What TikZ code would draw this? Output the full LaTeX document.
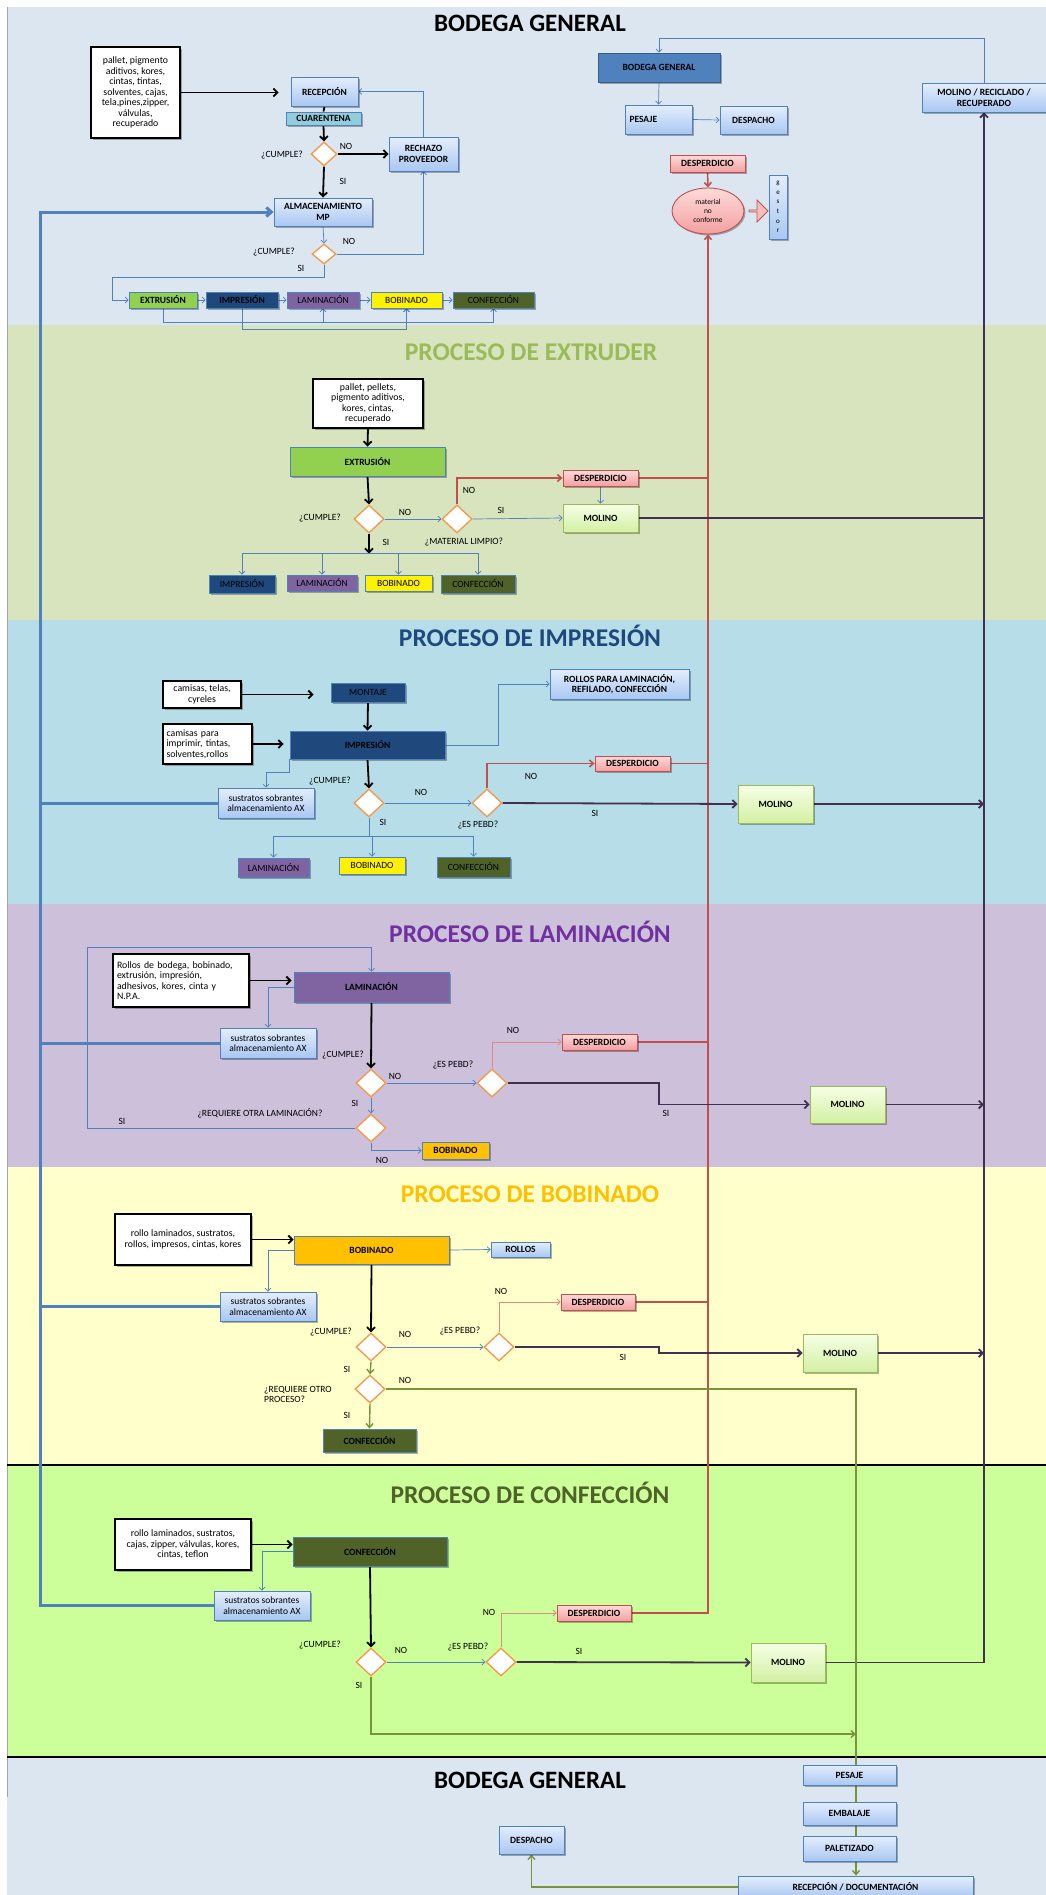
\documentclass[tikz,border=0pt]{standalone}
\usepackage{fontspec}
\setmainfont{Carlito}
\usetikzlibrary{shapes.geometric,shapes.arrows,arrows.meta,shadows,calc}
\pgfdeclarelayer{bg}\pgfdeclarelayer{lines}
\pgfsetlayers{bg,lines,main}
\definecolor{sa}{HTML}{DCE6F1}
\definecolor{sb}{HTML}{D7E4BD}
\definecolor{sc}{HTML}{B7DEE8}
\definecolor{sd}{HTML}{CCC0DA}
\definecolor{se}{HTML}{FFFFCC}
\definecolor{sf}{HTML}{CCFF99}
\definecolor{boxblue}{HTML}{4F81BD}
\definecolor{boxdark}{HTML}{385D8A}
\definecolor{bluetop}{HTML}{E4EEFC}
\definecolor{bluebot}{HTML}{A9C7F2}
\definecolor{cuarc}{HTML}{93CDDD}
\definecolor{grnbox}{HTML}{92D050}
\definecolor{navy}{HTML}{1F497D}
\definecolor{purbox}{HTML}{8064A2}
\definecolor{olive}{HTML}{4F6228}
\definecolor{orng}{HTML}{FFC000}
\definecolor{orangeb}{HTML}{F79646}
\definecolor{redc}{HTML}{C0504D}
\definecolor{pinkc}{HTML}{E08A86}
\definecolor{pinktop}{HTML}{FFDADA}
\definecolor{pinkbot}{HTML}{F2A0A0}
\definecolor{molb}{HTML}{9BBB59}
\definecolor{moltop}{HTML}{F6FFE6}
\definecolor{molbot}{HTML}{D3F0A3}
\definecolor{purp}{HTML}{403152}
\definecolor{greenc}{HTML}{77933C}
\definecolor{ttlgreen}{HTML}{9BBB59}
\definecolor{ttlpurple}{HTML}{7030A0}
\newcommand\bxf{\fontsize{9.5}{10.5}\selectfont\bfseries}
\newcommand\lbf{\fontsize{9.5}{10.5}\selectfont}
\newcommand\inpf{\fontsize{9.8}{10.5}\selectfont}
\newcommand\smf{\fontsize{7.5}{9}\selectfont}
\newcommand\gsf{\fontsize{7}{9.6}\selectfont}
\newcommand\ttlf{\fontsize{25.5}{28}\selectfont\bfseries}
\newcommand\bttlf{\fontsize{25}{28}\selectfont\bfseries}
\tikzset{
 shd/.style={drop shadow={shadow xshift=1.5pt, shadow yshift=-1.5pt, opacity=0.3, fill=black}},
 box/.style={draw=boxblue, line width=0.9pt, inner sep=1pt, align=center, font=\bxf, shd},
 bluebox/.style={box, top color=bluetop, bottom color=bluebot},
 pinkbox/.style={box, draw=redc, top color=pinktop, bottom color=pinkbot},
 molbox/.style={box, draw=molb, top color=moltop, bottom color=molbot},
 inbox/.style={draw=black, line width=1.1pt, fill=white, font=\inpf, align=center, inner sep=2pt, shd},
 dia/.style={diamond, draw=orangeb, line width=1.3pt, fill=white, inner sep=0pt, minimum width=30pt, minimum height=28pt},
 lab/.style={font=\lbf, inner sep=0pt},
 ttl/.style={font=\ttlf, inner sep=0pt},
 blk/.style={line width=1.8pt, black, -{Straight Barb[length=4pt,width=8pt]}},
 thn/.style={line width=0.7pt, boxblue, -{Straight Barb[length=3pt,width=6pt]}},
 thnl/.style={line width=0.7pt, boxblue},
 redl/.style={line width=1.6pt, redc},
 redarr/.style={redl, -{Straight Barb[length=4pt,width=7pt]}},
 pnk/.style={line width=0.8pt, pinkc, -{Straight Barb[length=3pt,width=6pt]}},
 prp/.style={line width=1.8pt, purp},
 prparr/.style={prp, -{Straight Barb[length=4pt,width=8pt]}},
 grn/.style={line width=1.4pt, greenc},
 grnarr/.style={grn, -{Straight Barb[length=4pt,width=7pt]}},
 bigb/.style={line width=3pt, boxblue},
}
\begin{document}
\begin{tikzpicture}[x=1pt,y=-1pt]
\useasboundingbox (0,0) rectangle (1046,1895);
\begin{pgfonlayer}{bg}
\fill[white] (0,0) rectangle (1046,1895);
\fill[sa] (7,7) rectangle (1046,325);
\fill[sb] (7,325) rectangle (1046,620);
\fill[sc] (7,620) rectangle (1046,904);
\fill[sd] (7,904) rectangle (1046,1167);
\fill[se] (7,1167) rectangle (1046,1465);
\fill[sf] (7,1465) rectangle (1046,1757);
\fill[sa] (7,1757) rectangle (1046,1895);
\draw[gray!70, line width=0.8pt] (7,7) -- (7,1797);
\draw[black, line width=2pt] (7,1465) -- (1046,1465);
\draw[black, line width=2pt] (7,1757) -- (1046,1757);
\end{pgfonlayer}

% titles
\node[inner sep=0pt, font=\bttlf] (t1) at (530,23) {BODEGA GENERAL};
\node[ttl, text=ttlgreen] (t2) at (531,352) {PROCESO DE EXTRUDER};
\node[ttl, text=navy] (t3) at (530,636) {PROCESO DE IMPRESIÓN};
\node[ttl, text=ttlpurple] (t4) at (530,932) {PROCESO DE LAMINACIÓN};
\node[ttl, text=orng] (t5) at (530,1194) {PROCESO DE BOBINADO};
\node[ttl, text=olive] (t6) at (530,1493) {PROCESO DE CONFECCIÓN};
\node[inner sep=0pt, font=\bttlf] (t7) at (530,1780) {BODEGA GENERAL};

% ===== TOP =====
\node[inbox, minimum width=89pt, minimum height=91pt] (in1) at (135.5,92.5) {pallet, pigmento\\aditivos, kores,\\cintas, tintas,\\solventes, cajas,\\tela,pines,zipper,\\válvulas,\\recuperado};
\node[bluebox, minimum width=67pt, minimum height=29pt] (rec) at (324.5,91.5) {RECEPCIÓN};
\node[box, fill=cuarc, minimum width=75pt, minimum height=13pt, inner sep=0pt] (cuar) at (323.5,118.5) {CUARENTENA};
\node[dia, minimum width=26pt, minimum height=24pt] (d1) at (324,154) {};
\node[bluebox, minimum width=69pt, minimum height=34pt] (rech) at (423.5,154) {RECHAZO\\PROVEEDOR};
\node[bluebox, minimum width=98pt, minimum height=28pt] (alm) at (323,212) {ALMACENAMIENTO\\MP};
\node[dia, minimum width=24pt, minimum height=20pt] (d2) at (324,254) {};
\node[box, fill=grnbox, minimum width=68pt, minimum height=16pt] (ex1) at (163,300) {EXTRUSIÓN};
\node[box, fill=navy, minimum width=72pt, minimum height=16pt] (im1) at (242,300) {IMPRESIÓN};
\node[box, fill=purbox, font=\lbf, minimum width=72pt, minimum height=16pt] (la1) at (323,300) {LAMINACIÓN};
\node[box, fill=yellow, font=\lbf, minimum width=71pt, minimum height=16pt] (bo1) at (406.5,300) {BOBINADO};
\node[box, fill=olive, font=\lbf, minimum width=81pt, minimum height=16pt] (co1) at (493.5,300) {CONFECCIÓN};
\node[lab] (l1a) at (282,155) {¿CUMPLE?};
\node[lab] (l1b) at (346,146) {NO};
\node[lab] (l1c) at (343,181) {SI};
\node[lab] (l2a) at (274,252) {¿CUMPLE?};
\node[lab] (l2b) at (349,241) {NO};
\node[lab] (l2c) at (301,268) {SI};

\node[box, fill=boxblue, draw=boxdark, minimum width=122pt, minimum height=29pt] (bg1) at (659,67.5) {BODEGA GENERAL};
\node[bluebox, minimum width=67pt, minimum height=29pt, align=left, text width=58pt] (pes1) at (658.5,119.5) {PESAJE};
\node[bluebox, minimum width=67pt, minimum height=28pt] (des1) at (753.5,120) {DESPACHO};
\node[pinkbox, minimum width=75pt, minimum height=17pt] (dp0) at (707.5,163.5) {DESPERDICIO};
\node[ellipse, draw=redc, line width=0.9pt, top color=pinktop, bottom color=pinkbot, minimum width=72pt, minimum height=46pt, inner sep=0pt, align=center, font=\smf, shd] (ell) at (708,211) {material\\no\\conforme};
\node[single arrow, draw=redc, fill=pinkbot!70!white, line width=0.8pt, minimum height=19pt, minimum width=22pt, single arrow head extend=4pt, inner sep=0pt] (barr) at (758,211) {};
\node[bluebox, font=\gsf, minimum width=18pt, minimum height=64pt, inner sep=0pt] (gst) at (778,207) {g\\e\\s\\t\\o\\r};
\node[bluebox, minimum width=124pt, minimum height=29pt] (molrec) at (984,97.5) {MOLINO / RECICLADO /\\RECUPERADO};

% ===== EXTRUDER =====
\node[inbox, minimum width=110pt, minimum height=49pt] (in2) at (368,403.5) {pallet, pellets,\\pigmento aditivos,\\kores, cintas,\\recuperado};
\node[box, fill=grnbox, minimum width=155pt, minimum height=29pt] (ex2) at (367.5,461.5) {EXTRUSIÓN};
\node[dia] (dA) at (369,519) {};
\node[dia] (dB) at (457,519) {};
\node[pinkbox, minimum width=75pt, minimum height=16pt] (dp2) at (600.5,478) {DESPERDICIO};
\node[molbox, minimum width=75pt, minimum height=28pt] (mo2) at (600.5,518) {MOLINO};
\node[box, fill=navy, font=\lbf, minimum width=66pt, minimum height=18pt] (im2) at (242,584) {IMPRESIÓN};
\node[box, fill=purbox, font=\lbf, minimum width=70pt, minimum height=16pt] (la2) at (322,583) {LAMINACIÓN};
\node[box, fill=yellow, font=\lbf, minimum width=67pt, minimum height=16pt] (bo2) at (398.5,583) {BOBINADO};
\node[box, fill=olive, font=\lbf, minimum width=74pt, minimum height=18pt] (co2) at (478,584) {CONFECCIÓN};
\node[lab] (l3a) at (320,518) {¿CUMPLE?};
\node[lab] (l3b) at (405,512) {NO};
\node[lab] (l3c) at (464,542) {¿MATERIAL LIMPIO?};
\node[lab] (l3d) at (469,490) {NO};
\node[lab] (l3e) at (501,510) {SI};
\node[lab] (l3f) at (386,542) {SI};

% ===== IMPRESION =====
\node[inbox, minimum width=78pt, minimum height=27pt] (in3a) at (202,694.5) {camisas, telas,\\cyreles};
\node[box, fill=navy, font=\lbf, minimum width=74pt, minimum height=19pt] (mon) at (368,692.5) {MONTAJE};
\node[inbox, align=left, text width=82pt, minimum width=89pt, minimum height=40pt] (in3b) at (207.5,744) {camisas para\\imprimir, tintas,\\solventes,rollos};
\node[box, fill=navy, minimum width=155pt, minimum height=28pt] (im3) at (367.5,745) {IMPRESIÓN};
\node[bluebox, minimum width=139pt, minimum height=30pt] (rol3) at (619.5,684) {ROLLOS PARA LAMINACIÓN,\\REFILADO, CONFECCIÓN};
\node[bluebox, font=\lbf, minimum width=96pt, minimum height=30pt] (su3) at (266,803) {sustratos sobrantes\\almacenamiento AX};
\node[dia] (dC) at (369,803) {};
\node[dia] (dD) at (487,803) {};
\node[pinkbox, minimum width=75pt, minimum height=15pt] (dp3) at (632.5,763.5) {DESPERDICIO};
\node[molbox, minimum width=75pt, minimum height=38pt] (mo3) at (775.5,804) {MOLINO};
\node[box, fill=purbox, font=\lbf, minimum width=71pt, minimum height=19pt] (la3) at (273.5,867.5) {LAMINACIÓN};
\node[box, fill=yellow, font=\lbf, minimum width=66pt, minimum height=17pt] (bo3) at (372,865.5) {BOBINADO};
\node[box, fill=olive, font=\lbf, minimum width=73pt, minimum height=20pt] (co3) at (473.5,867) {CONFECCIÓN};
\node[lab] (l4a) at (330,781) {¿CUMPLE?};
\node[lab] (l4b) at (421,792) {NO};
\node[lab] (l4c) at (531,776) {NO};
\node[lab] (l4d) at (595,813) {SI};
\node[lab] (l4e) at (478,825) {¿ES PEBD?};
\node[lab] (l4f) at (383,822) {SI};

% ===== LAMINACION =====
\node[inbox, align=left, text width=128pt, minimum width=136pt, minimum height=53pt] (in4) at (181,980.5) {Rollos de bodega, bobinado,\\extrusión, impresión,\\adhesivos, kores, cinta y\\N.P.A.};
\node[box, fill=purbox, minimum width=155pt, minimum height=30pt] (la4) at (371.5,987) {LAMINACIÓN};
\node[bluebox, font=\lbf, minimum width=96pt, minimum height=30pt] (su4) at (268,1043) {sustratos sobrantes\\almacenamiento AX};
\node[dia] (dE) at (371,1083) {};
\node[dia] (dG) at (492,1083) {};
\node[pinkbox, minimum width=75pt, minimum height=16pt] (dp4) at (599.5,1042) {DESPERDICIO};
\node[molbox, minimum width=75pt, minimum height=37pt] (mo4) at (847.5,1104.5) {MOLINO};
\node[dia] (dF) at (371,1128) {};
\node[box, fill=orng, minimum width=67pt, minimum height=17pt] (bo4) at (455.5,1150.5) {BOBINADO};
\node[lab] (l5a) at (343,1055) {¿CUMPLE?};
\node[lab] (l5b) at (395,1076) {NO};
\node[lab] (l5c) at (453,1065) {¿ES PEBD?};
\node[lab] (l5d) at (513,1030) {NO};
\node[lab] (l5e) at (666,1113) {SI};
\node[lab] (l5f) at (355,1103) {SI};
\node[lab] (l5g) at (260,1113) {¿REQUIERE OTRA LAMINACIÓN?};
\node[lab] (l5h) at (122,1121) {SI};
\node[lab] (l5i) at (382,1160) {NO};

% ===== BOBINADO =====
\node[inbox, minimum width=136pt, minimum height=51pt] (in5) at (183,1239.5) {rollo laminados, sustratos,\\rollos, impresos, cintas, kores};
\node[box, fill=orng, minimum width=155pt, minimum height=28pt] (bo5) at (371.5,1250) {BOBINADO};
\node[bluebox, minimum width=59pt, minimum height=15pt] (rol5) at (520.5,1249.5) {ROLLOS};
\node[bluebox, font=\lbf, minimum width=96pt, minimum height=29pt] (su5) at (268,1306.5) {sustratos sobrantes\\almacenamiento AX};
\node[dia] (dH) at (371,1347) {};
\node[dia] (dI) at (499,1347) {};
\node[pinkbox, minimum width=74pt, minimum height=16pt] (dp5) at (598,1302) {DESPERDICIO};
\node[molbox, minimum width=74pt, minimum height=38pt] (mo5) at (840,1353) {MOLINO};
\node[dia] (dJ) at (370,1389) {};
\node[box, fill=olive, minimum width=93pt, minimum height=23pt] (co5) at (369.5,1440.5) {CONFECCIÓN};
\node[lab] (l6a) at (331,1332) {¿CUMPLE?};
\node[lab] (l6b) at (405,1334) {NO};
\node[lab] (l6c) at (460,1331) {¿ES PEBD?};
\node[lab] (l6d) at (501,1291) {NO};
\node[lab] (l6e) at (623,1357) {SI};
\node[lab] (l6f) at (347,1369) {SI};
\node[lab] (l6g) at (405,1380) {NO};
\node[lab, align=left, anchor=west] (l6h) at (264,1394.5) {¿REQUIERE OTRO\\PROCESO?};
\node[lab] (l6i) at (347,1415) {SI};

% ===== CONFECCION =====
\node[inbox, minimum width=136pt, minimum height=51pt] (in6) at (183,1544.5) {rollo laminados, sustratos,\\cajas, zipper, válvulas, kores,\\cintas, teflon};
\node[box, fill=olive, minimum width=154pt, minimum height=29pt] (co6) at (370,1551.5) {CONFECCIÓN};
\node[bluebox, font=\lbf, minimum width=96pt, minimum height=29pt] (su6) at (262,1605.5) {sustratos sobrantes\\almacenamiento AX};
\node[dia] (dK) at (371,1662) {};
\node[dia] (dL) at (501,1662) {};
\node[pinkbox, minimum width=74pt, minimum height=16pt] (dp6) at (594,1613) {DESPERDICIO};
\node[molbox, minimum width=74pt, minimum height=39pt] (mo6) at (788,1662.5) {MOLINO};
\node[lab] (l7a) at (320,1645) {¿CUMPLE?};
\node[lab] (l7b) at (401,1650) {NO};
\node[lab] (l7c) at (468,1647) {¿ES PEBD?};
\node[lab] (l7d) at (489,1612) {NO};
\node[lab] (l7e) at (579,1651) {SI};
\node[lab] (l7f) at (359,1685) {SI};

% ===== BODEGA BOTTOM =====
\node[bluebox, minimum width=93pt, minimum height=20pt] (pes7) at (849.5,1775) {PESAJE};
\node[bluebox, minimum width=93pt, minimum height=23pt] (emb7) at (849.5,1813.5) {EMBALAJE};
\node[bluebox, minimum width=93pt, minimum height=25pt] (pal7) at (849.5,1848.5) {PALETIZADO};
\node[bluebox, minimum width=235pt, minimum height=22pt] (rd7) at (855.5,1887) {RECEPCIÓN / DOCUMENTACIÓN};
\node[bluebox, minimum width=65pt, minimum height=28pt] (des7) at (531.5,1840) {DESPACHO};

\coordinate (bl) at (40,212);
\coordinate (gx) at (856,1734);

\begin{pgfonlayer}{lines}
% top
\draw[blk, shorten >=12pt] (in1.east) -- (in1.east -| rec.west);
\draw[line width=1.8pt] (rec.south) -- (cuar.north);
\draw[blk] (cuar.south) -- (d1.north);
\draw[blk] (d1.east) -- (rech.west);
\draw[thn] (rech.north) |- (rec.east);
\draw[blk] (d1.south) -- (alm.north);
\draw[thn] (alm.south) -- (d2.north);
\draw[thn] (d2.east) -| (rech.south);
\draw[thn] (d2.south) -- ++(0,13) -| ($(ex1.west)+(-16,0)$) -- (ex1.west);
\draw[thn] (ex1.east) -- (im1.west);
\draw[thn] (im1.east) -- (la1.west);
\draw[thn] (la1.east) -- (bo1.west);
\draw[thn] (bo1.east) -- (co1.west);
\draw[thn] (ex1.south) -- ++(0,14) -| (co1.south);
\draw[thn] (ex1.south) ++(0,14) -| (la1.south);
\draw[thn] (ex1.south) ++(0,14) -| (bo1.south);
\draw[thn] (im1.south) -- ++(0,21) -| (bo1.south);
\draw[thn] (molrec.north) -- ++(0,-44) -| (bg1.north);
\draw[thn] (bg1.south) -- (pes1.north);
\draw[thn] (pes1.east) -- (des1.west);
\draw[redarr] (dp0.south) -- (ell.north);
% big blue
\draw[bigb, -{Straight Barb[length=5pt,width=9pt]}] (su6.west) -| (bl) -- (alm.west);
\draw[bigb] (su3.west) -- (su3.west -| bl);
\draw[bigb] (su4.west) -- (su4.west -| bl);
\draw[bigb] (su5.west) -- (su5.west -| bl);
% red and purple collectors
\draw[redarr] (dp6.east) -| (ell.south);
\draw[redl] (dp2.east) -- (dp2.east -| ell.south);
\draw[redl] (dp3.east) -- (dp3.east -| ell.south);
\draw[redl] (dp4.east) -- (dp4.east -| ell.south);
\draw[redl] (dp5.east) -- (dp5.east -| ell.south);
\draw[prparr] (mo6.east) -| (molrec.south);
\draw[prp] (mo2.east) -- (mo2.east -| molrec.south);
\draw[prparr] (mo3.east) -- (mo3.east -| molrec.south);
\draw[prparr] (mo4.east) -- (mo4.east -| molrec.south);
\draw[prparr] (mo5.east) -- (mo5.east -| molrec.south);
% extruder
\draw[blk] (in2.south) -- (ex2.north);
\draw[blk] (ex2.south) -- (dA.north);
\draw[thn] (dA.east) -- (dB.west);
\draw[redarr] (dB.north) |- (dp2.west);
\draw[thn] (dp2.south) -- (mo2.north);
\draw[thn] (dB.east) -- (mo2.west);
\draw[blk] (dA.south) -- ++(0,20) coordinate (sp2);
\draw[thn] (sp2) -| (im2.north);
\draw[thn] (sp2) -| (la2.north);
\draw[thn] (sp2) -| (bo2.north);
\draw[thn] (sp2) -| (co2.north);
% impresion
\draw[blk, shorten >=17pt] (in3a.east) -- (in3a.east -| mon.west);
\draw[blk] (mon.south) -- (im3.north);
\draw[blk, shorten >=6pt] (in3b.east) -- (in3b.east -| im3.west);
\draw[thn] (im3.east) -- ++(53,0) |- (rol3.west);
\draw[thn] (im3.south west) -- ++(0,13) -| (su3.north);
\draw[blk] (im3.south) -- (dC.north);
\draw[thn] (dC.east) -- (dD.west);
\draw[redarr] (dD.north) |- (dp3.west);
\draw[prparr] (dD.east) -- (mo3.west);
\draw[thnl] (dC.south) -- ++(0,19) coordinate (sp3);
\draw[thn] (sp3) -| (la3.north);
\draw[thn] (sp3) -| (bo3.north);
\draw[thn] (sp3) -| (co3.north);
% laminacion
\draw[blk, shorten >=2pt] (in4.east) -- (in4.east -| la4.west);
\draw[thn] (la4.west) -| (su4.north);
\draw[blk] (la4.south) -- (dE.north);
\draw[thn] (dE.east) -- (dG.west);
\draw[pnk] (dG.north) |- (dp4.west);
\draw[prparr] (dG.east) -- ++(151,0) |- (mo4.west);
\draw[thn] (dE.south) -- (dF.north);
\draw[thn] (dF.west) -| ($(la4.north)+(-284,-24)$) -| (la4.north);
\draw[thn] (dF.south) |- (bo4.west);
% bobinado
\draw[blk] (in5.east) -- (in5.east -| bo5.west);
\draw[thn] (bo5.east) -- (rol5.west);
\draw[thn] (bo5.west) -| (su5.north);
\draw[blk] (bo5.south) -- (dH.north);
\draw[thn] (dH.east) -- (dI.west);
\draw[pnk] (dI.north) |- (dp5.west);
\draw[prparr] (dI.east) -- ++(144,0) |- (mo5.west);
\draw[grnarr] (dH.south) -- (dJ.north);
\draw[grnarr] (dJ.south) -- (co5.north);
% confeccion
\draw[blk] (in6.east) -- (in6.east -| co6.west);
\draw[thn] (co6.west) -| (su6.north);
\draw[blk] (co6.south) -- (dK.north);
\draw[thn] (dK.east) -- (dL.west);
\draw[pnk] (dL.north) |- (dp6.west);
\draw[prparr] (dL.east) -- (mo6.west);
% green
\draw[grn] (dJ.east) -| (gx |- pes7.north);
\draw[grn] (gx |- pes7.south) -- (gx |- emb7.north);
\draw[grn] (gx |- emb7.south) -- (gx |- pal7.north);
\draw[grnarr] (gx |- pal7.south) -- (gx |- rd7.north);
\draw[grnarr] (dK.south) |- (gx);
\draw[grnarr] (rd7.west) -| (des7.south);
\end{pgfonlayer}
\end{tikzpicture}
\end{document}
